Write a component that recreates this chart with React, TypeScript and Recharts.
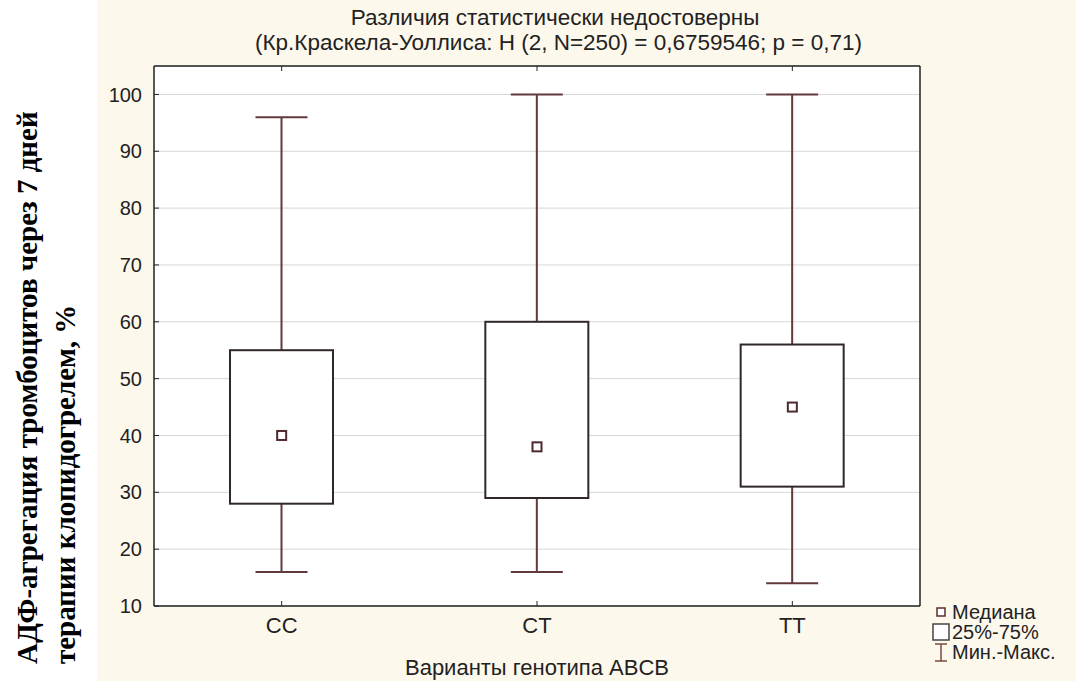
import { ComposedChart, Bar, Scatter, XAxis, YAxis, CartesianGrid } from "recharts"

document.body.style.margin = "0"

const genotypes = ["CC", "CT", "TT"]
const minValues = [16, 16, 14]
const q1Values = [28, 29, 31]
const medianValues = [40, 38, 45]
const q3Values = [55, 60, 56]
const maxValues = [96, 100, 100]
const yTicks = [10, 20, 30, 40, 50, 60, 70, 80, 90, 100]
const legendLabels = ["Медиана", "25%-75%", "Мин.-Макс."]

const data = genotypes.map((name, i) => ({
  name,
  whisker: [minValues[i], maxValues[i]],
  box: [q1Values[i], q3Values[i]],
  median: medianValues[i],
}))

const SANS = "'Liberation Sans', Arial, sans-serif"
const SERIF = "'Liberation Serif', 'Times New Roman', serif"
const BOX_W = 103
const CAP_W = 52
const whiskerColor = "#623a3c"
const boxColor = "#302828"

function WhiskerShape(props: any) {
  const { x, y, width, height } = props
  const cx = x + width / 2
  return (
    <g stroke={whiskerColor} strokeWidth={2}>
      <line x1={cx} x2={cx} y1={y} y2={y + height} />
      <line x1={cx - CAP_W / 2} x2={cx + CAP_W / 2} y1={y} y2={y} />
      <line x1={cx - CAP_W / 2} x2={cx + CAP_W / 2} y1={y + height} y2={y + height} />
    </g>
  )
}

function BoxShape(props: any) {
  const { x, y, width, height } = props
  return <rect x={x} y={y} width={width} height={height} fill="#fff" stroke={boxColor} strokeWidth={2} />
}

function MedianShape(props: any) {
  const { cx, cy } = props
  return <rect x={cx - 4.5} y={cy - 4.5} width={9} height={9} fill="#fff" stroke="#4e2a2c" strokeWidth={2} />
}

const legendIcons = [
  <rect x={6} y={6} width={8} height={8} fill="#fff" stroke="#5a2c2e" strokeWidth={1.5} />,
  <rect x={2} y={2} width={16} height={16} fill="#fff" stroke="#444" strokeWidth={1.5} />,
  <g stroke="#7a4a40" strokeWidth={1.5}>
    <line x1={4} x2={16} y1={2} y2={2} />
    <line x1={10} x2={10} y1={2} y2={19} />
    <line x1={4} x2={16} y1={19} y2={19} />
  </g>,
]

function LegendBox() {
  return (
    <div style={{ fontFamily: SANS, fontSize: 20, color: "#222", lineHeight: "20px" }}>
      {legendLabels.map((label, i) => (
        <div key={label} style={{ display: "flex", alignItems: "center", height: 20 }}>
          <svg width={20} height={21}>{legendIcons[i]}</svg>
          <span style={{ marginLeft: 1 }}>{label}</span>
        </div>
      ))}
    </div>
  )
}

export default function App() {
  return (
    <div style={{ position: "relative", width: 1076, height: 681, background: "#fff", overflow: "hidden" }}>
      <div style={{ position: "absolute", left: 97, top: 0, width: 979, height: 681, background: "#fdf8ec" }} />
      <div
        style={{
          position: "absolute",
          left: 255,
          width: 600,
          top: 5,
          textAlign: "center",
          fontFamily: SANS,
          fontSize: 22.5,
          lineHeight: "25px",
          color: "#222",
          whiteSpace: "nowrap",
        }}
      >
        <div>Различия статистически недостоверны</div>
        <div>(Кр.Краскела-Уоллиса: H (2, N=250) = 0,6759546; p = 0,71)</div>
      </div>
      <svg style={{ position: "absolute", left: 0, top: 0 }} width={97} height={681}>
        <g fontFamily={SERIF} fontWeight="bold" fontSize={29} fill="#000">
          <text transform="translate(37 664) rotate(-90)">АДФ-агрегация  тромбоцитов через 7 дней</text>
          <text transform="translate(75 664) rotate(-90)">терапии клопидогрелем, %</text>
        </g>
      </svg>
      <div style={{ position: "absolute", left: 0, top: 0 }}>
        <ComposedChart
          width={1076}
          height={681}
          data={data}
          margin={{ top: 65, right: 155, bottom: 35, left: 94 }}
          barGap={-BOX_W}
        >
          <CartesianGrid vertical={false} stroke="#d6d6d6" fill="#fff" />
          <XAxis
            dataKey="name"
            tickSize={-5}
            tickMargin={16}
            axisLine={{ stroke: "#222", strokeWidth: 1.5 }}
            tickLine={{ stroke: "#222" }}
            tick={{ fill: "#222", fontFamily: SANS, fontSize: 22 }}
            height={40}
            label={{ value: "Варианты генотипа ABCB", position: "insideBottom", offset: -29, fill: "#222", fontFamily: SANS, fontSize: 22 }}
          />
          <XAxis
            xAxisId="top"
            dataKey="name"
            orientation="top"
            height={1}
            tickSize={-5}
            tickFormatter={() => ""}
            axisLine={{ stroke: "#222", strokeWidth: 1.5 }}
            tickLine={{ stroke: "#222" }}
          />
          <YAxis
            type="number"
            domain={[10, 105]}
            ticks={yTicks}
            interval={0}
            width={60}
            tickSize={-5}
            tickMargin={17}
            axisLine={{ stroke: "#222", strokeWidth: 1.5 }}
            tickLine={{ stroke: "#222" }}
            tick={{ fill: "#222", fontFamily: SANS, fontSize: 20 }}
          />
          <YAxis
            yAxisId="right"
            orientation="right"
            type="number"
            domain={[10, 105]}
            ticks={yTicks}
            interval={0}
            width={1}
            tickSize={-5}
            tickFormatter={() => ""}
            axisLine={{ stroke: "#222", strokeWidth: 1.5 }}
            tickLine={{ stroke: "#222" }}
          />
          <Bar dataKey="whisker" barSize={BOX_W} shape={<WhiskerShape />} isAnimationActive={false} />
          <Bar dataKey="box" barSize={BOX_W} shape={<BoxShape />} isAnimationActive={false} />
          <Scatter dataKey="median" shape={<MedianShape />} isAnimationActive={false} />
        </ComposedChart>
      </div>
      <div style={{ position: "absolute", left: 931, top: 602 }}>
        <LegendBox />
      </div>
    </div>
  )
}
